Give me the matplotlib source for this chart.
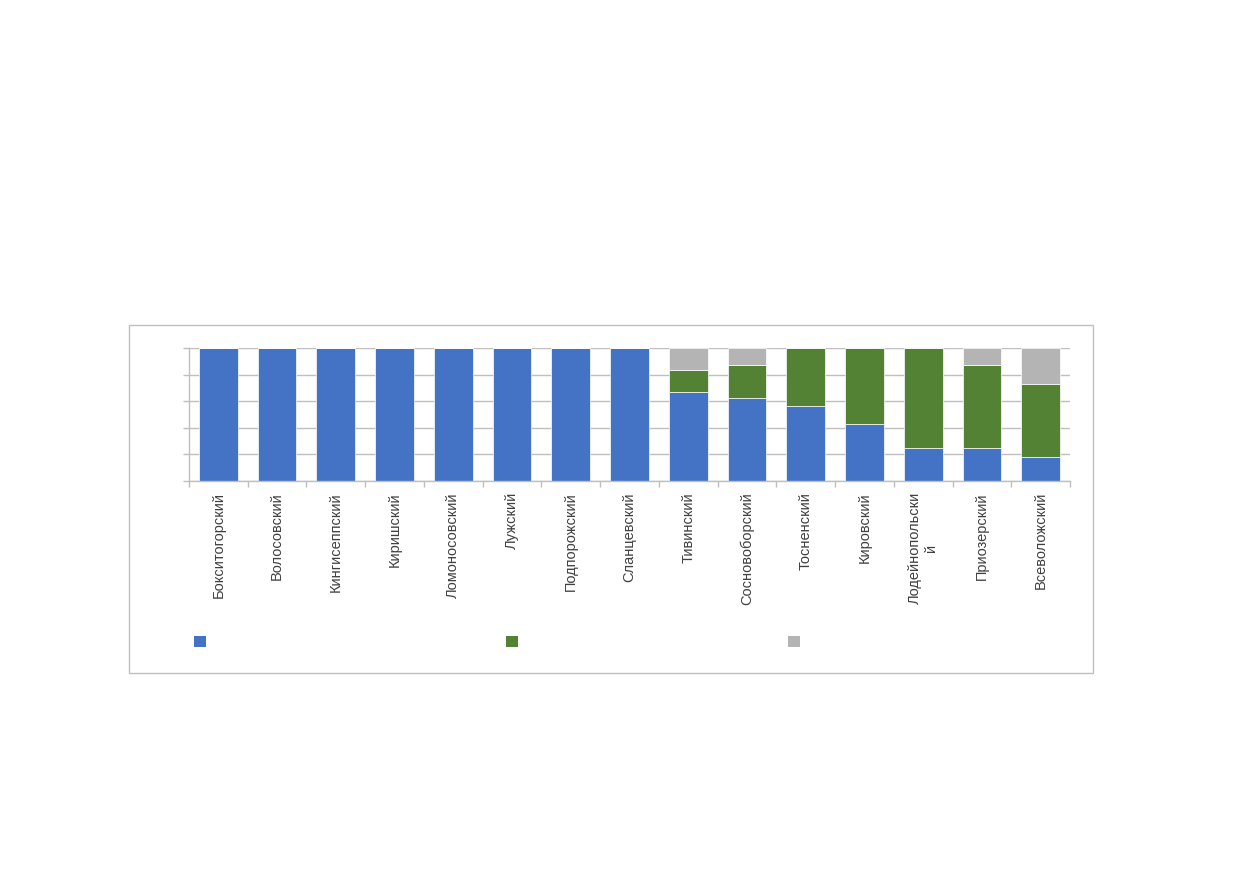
import matplotlib.pyplot as plt
from matplotlib.patches import Patch, Rectangle

plt.rcParams['font.family'] = ['Liberation Sans', 'DejaVu Sans']

# районы
districts = ['Бокситогорский', 'Волосовский', 'Кингисеппский', 'Киришский',
             'Ломоносовский', 'Лужский', 'Подпорожский', 'Сланцевский',
             'Тивинский', 'Сосновоборский', 'Тосненский', 'Кировский',
             'Лодейнопольски\nй', 'Приозерский', 'Всеволожский']
# доли, %
part_blue = [100, 100, 100, 100, 100, 100, 100, 100, 66.7, 62.5, 56.4, 42.9, 25.0, 25.0, 18.2]
part_green = [0, 0, 0, 0, 0, 0, 0, 0, 16.7, 25.0, 43.6, 57.1, 75.0, 62.5, 54.5]
part_gray = [0, 0, 0, 0, 0, 0, 0, 0, 16.6, 12.5, 0, 0, 0, 12.5, 27.3]

colors = ['#4472C4', '#548235', '#B4B4B4']
axis_col = '#BFBFBF'
text_col = '#404040'

fig = plt.figure(figsize=(12.39, 8.72), dpi=100)
ax = fig.add_axes([189 / 1239, 1 - 481 / 872, 881 / 1239, 133 / 872])

x = range(len(districts))
bottom2 = [a + b for a, b in zip(part_blue, part_green)]
ax.bar(x, part_blue, width=0.66, color=colors[0], edgecolor='white', linewidth=0.5)
ax.bar(x, part_green, width=0.66, bottom=part_blue, color=colors[1], edgecolor='white', linewidth=0.5)
ax.bar(x, part_gray, width=0.66, bottom=bottom2, color=colors[2], edgecolor='white', linewidth=0.5)

ax.set_xlim(-0.5, len(districts) - 0.5)
ax.set_ylim(0, 100)
ax.set_yticks([0, 20, 40, 60, 80, 100])
ax.set_yticklabels([])
ax.yaxis.grid(True, color=axis_col, linewidth=1)
ax.set_axisbelow(True)

ax.set_xticks(list(x))
ax.set_xticklabels(districts, rotation=90, fontsize=10.5, color=text_col)
ax.set_xticks([i - 0.5 for i in range(len(districts) + 1)], minor=True)
ax.tick_params(axis='x', which='major', length=0, pad=8)
ax.tick_params(axis='x', which='minor', length=4, color=axis_col, width=1)
ax.tick_params(axis='y', length=4.5, color=axis_col, width=1)

for s in ['top', 'right']:
    ax.spines[s].set_visible(False)
for s in ['left', 'bottom']:
    ax.spines[s].set_color(axis_col)
    ax.spines[s].set_linewidth(1)

# рамка диаграммы
fig.patches.append(Rectangle((129 / 1239, 1 - 673 / 872), 964 / 1239, 348 / 872,
                             transform=fig.transFigure, fill=False,
                             edgecolor='#BFBFBF', linewidth=1))

# легенда (без подписей)
legend_x = [200 / 1239, 512 / 1239, 794 / 1239]
for c, lx in zip(colors, legend_x):
    fig.legend(handles=[Patch(facecolor=c)], labels=[''], loc='center',
               bbox_to_anchor=(lx, 1 - 642.5 / 872), frameon=False,
               fontsize=10, handlelength=0.8, handleheight=0.8,
               handletextpad=0, borderpad=0)

plt.savefig('out.png', dpi=100)
